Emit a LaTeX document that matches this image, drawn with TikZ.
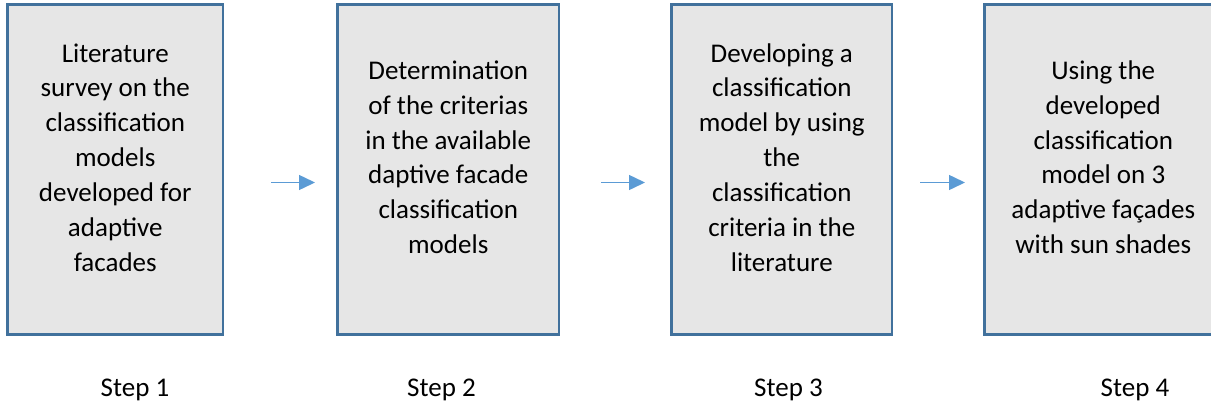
\documentclass[tikz,border=0pt]{standalone}
\usepackage{fontspec}
\setmainfont{Carlito}
\usetikzlibrary{arrows.meta}
\definecolor{boxfill}{HTML}{E6E6E6}
\definecolor{boxline}{HTML}{41719C}
\definecolor{arrowc}{HTML}{5B9BD5}
\tikzset{
  stepbox/.style={draw=boxline, fill=boxfill, line width=2.5pt, rectangle, inner sep=0pt, outer sep=0pt, minimum height=330pt},
  boxtext/.style={align=center, inner sep=0pt, font=\fontsize{27}{34.83}\selectfont},
  steplabel/.style={anchor=base, inner sep=0pt, font=\fontsize{27}{32}\selectfont},
  arr/.style={draw=arrowc, line width=1.5pt, -{Triangle[length=16pt,width=15pt]}}
}
\begin{document}
\begin{tikzpicture}[x=1pt,y=-1pt]
\useasboundingbox (0,0) rectangle (1211,405);
\clip (0,0) rectangle (1211,405);
\node[stepbox, minimum width=215.5pt] (b1) at (115.25,169.5) {};
\node[stepbox, minimum width=221.5pt] (b2) at (448.25,169.5) {};
\node[stepbox, minimum width=220.5pt] (b3) at (781.75,169.5) {};
\node[stepbox, minimum width=245.5pt] (b4) at (1107.25,169.5) {};

\node[boxtext] (t1) at ([yshift=9.9pt]b1.center) {\strut Literature\\survey on the\\classification\\models\\developed for\\adaptive\\facades\strut};
\node[boxtext] (t2) at ([yshift=9.9pt]b2.center) {\strut Determination\\of the criterias\\in the available\\daptive facade\\classification\\models\strut};
\node[boxtext] (t3) at ([yshift=9.9pt]b3.center) {\strut Developing a\\classification\\model by using\\the\\classification\\criteria in the\\literature\strut};
\node[boxtext] (t4) at ([yshift=9.9pt,xshift=-4pt]b4.center) {\strut Using the\\developed\\classification\\model on 3\\adaptive façades\\with sun shades\strut};

\draw[arr, shorten <=48pt, shorten >=22.5pt] ([yshift=-13pt]b1.east) -- ([yshift=-13pt]b2.west);
\draw[arr, shorten <=42pt, shorten >=26.5pt] ([yshift=-13pt]b2.east) -- ([yshift=-13pt]b3.west);
\draw[arr, shorten <=28pt, shorten >=19.5pt] ([yshift=-13pt]b3.east) -- ([yshift=-13pt]b4.west);

\node[steplabel] (s1) at (135,396.5) {Step 1};
\node[steplabel] (s2) at (441.5,396.5) {Step 2};
\node[steplabel] (s3) at (788.5,396.5) {Step 3};
\node[steplabel] (s4) at (1135,396.5) {Step 4};
\end{tikzpicture}
\end{document}
